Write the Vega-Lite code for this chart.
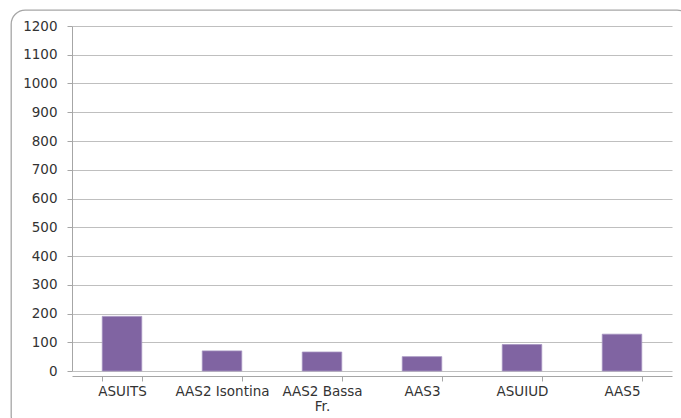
{
  "$schema": "https://vega.github.io/schema/vega-lite/v6.json",
  "autosize": {"type": "none"},
  "padding": {"left": 11, "top": 10, "right": 0, "bottom": 0},
  "width": 680,
  "height": 420,
  "background": "white",
  "config": {
    "view": {"stroke": "#a6a6a6", "strokeWidth": 1.3, "cornerRadius": 14},
    "font": "DejaVu Sans"
  },
  "data": {
    "values": [
      {"azienda": "ASUITS", "valore": 190},
      {"azienda": "AAS2 Isontina", "valore": 70},
      {"azienda": "AAS2 Bassa Fr.", "valore": 66},
      {"azienda": "AAS3", "valore": 50},
      {"azienda": "ASUIUD", "valore": 92},
      {"azienda": "AAS5", "valore": 128}
    ]
  },
  "mark": {"type": "bar", "color": "#8064a2", "stroke": "#a593c0", "strokeWidth": 0.8},
  "encoding": {
    "x": {
      "field": "azienda",
      "type": "nominal",
      "sort": null,
      "scale": {"range": [61, 661], "paddingInner": 0.605, "paddingOuter": 0.3025},
      "axis": {
        "title": null,
        "offset": -54,
        "labelAngle": 0,
        "labelFontSize": 13.5,
        "labelColor": "#333333",
        "labelPadding": 3,
        "labelLineHeight": 15,
        "labelExpr": "datum.value == 'AAS2 Bassa Fr.' ? ['AAS2 Bassa', 'Fr.'] : datum.value",
        "domainColor": "#a6a6a6",
        "tickColor": "#a6a6a6",
        "tickSize": 5,
        "tickBand": "extent",
        "grid": false
      }
    },
    "y": {
      "field": "valore",
      "type": "quantitative",
      "scale": {"domain": [0, 1200], "range": [361, 16], "nice": false},
      "axis": {
        "title": null,
        "offset": -61,
        "format": "d",
        "values": [0, 100, 200, 300, 400, 500, 600, 700, 800, 900, 1000, 1100, 1200],
        "labelFontSize": 13.5,
        "labelColor": "#333333",
        "labelPadding": 10,
        "domainColor": "#a6a6a6",
        "tickColor": "#a6a6a6",
        "tickSize": 5,
        "gridColor": "#bfbfbf",
        "gridOpacity": 1,
        "gridWidth": 1
      }
    }
  }
}
